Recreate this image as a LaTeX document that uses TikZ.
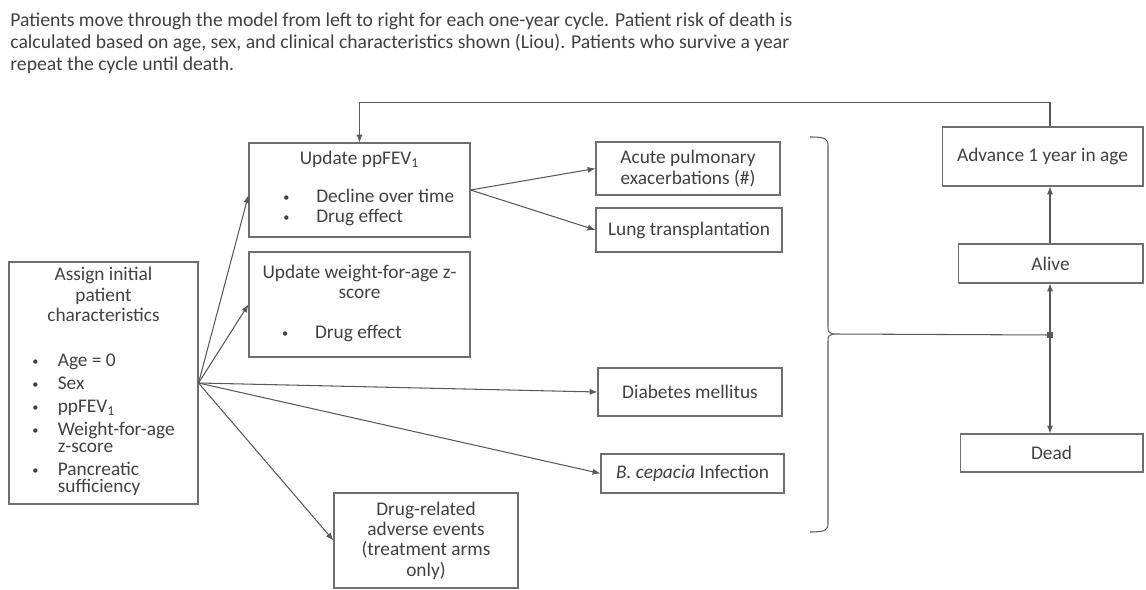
\documentclass[tikz,border=0pt]{standalone}
\usepackage{fontspec}
\setmainfont{Carlito}
\usetikzlibrary{arrows.meta, calc}
\definecolor{cfLine}{HTML}{595959}
\definecolor{cfText}{HTML}{404040}
\definecolor{cfBorder}{HTML}{6E6E6E}
\newcommand{\cfdot}{\raisebox{0.6pt}{\fontsize{7}{7}\selectfont\textbullet}}

\begin{document}
\begin{tikzpicture}[
  x=0.02cm, y=-0.02cm,
  >={Latex[length=4.5pt,width=3.5pt]},
  font=\fontsize{11}{11.6}\selectfont,
  flow/.style={->, draw=cfLine, line width=0.6pt},
  connector/.style={draw=cfLine, line width=0.6pt},
  box/.style={draw=cfBorder, line width=0.6pt, text=cfText, align=center, inner sep=0pt},
  junction/.style={fill=cfLine, minimum size=3pt, inner sep=0pt}
]
  \useasboundingbox (0,0) rectangle (1146,590);

  \node[anchor=north west, text=cfText, align=left, inner sep=0pt,
        font=\fontsize{11.2}{12.8}\selectfont] (caption) at (10,12)
    {Patients move through the model from left to right for each one-year cycle. Patient risk of death is\\
     calculated based on age, sex, and clinical characteristics shown (Liou). Patients who survive a year\\
     repeat the cycle until death.};

  % Starting state
  \node[box, minimum width=3.78cm, minimum height=4.84cm] (assign) at (103.5,383)
    {Assign initial\\patient\\characteristics\\[14pt]
     \begin{tabular}[t]{@{}l@{\hspace{11pt}}l@{}}
       \cfdot & Age = 0\\[1.5pt]
       \cfdot & Sex\\[1.5pt]
       \cfdot & ppFEV\textsubscript{1}\\[1.5pt]
       \cfdot & Weight-for-age\\[-2pt]
              & z-score\\[1.5pt]
       \cfdot & Pancreatic\\[-2pt]
              & sufficiency
     \end{tabular}};

  % Yearly updates
  \node[box, minimum width=4.42cm, minimum height=1.88cm] (fev) at (359.5,190)
    {Update ppFEV\textsubscript{1}\\[10pt]
     \hspace*{10.5pt}\begin{tabular}[t]{@{}l@{\hspace{15.3pt}}l@{}}
       \cfdot & Decline over time\\
       \cfdot & Drug effect
     \end{tabular}};
  \node[box, minimum width=4.42cm, minimum height=2.10cm] (wfa) at (359.5,304.5)
    {Update weight-for-age z-\\score\\[11pt]
     \hspace*{6pt}\begin{tabular}[t]{@{}l@{\hspace{15.3pt}}l@{}}
       \cfdot & Drug effect\hspace*{26pt}
     \end{tabular}};
  \node[box, minimum width=3.68cm, minimum height=1.90cm] (adverse) at (426,540.5)
    {Drug-related\\adverse events\\(treatment arms\\only)};

  % Clinical events
  \node[box, minimum width=3.68cm, minimum height=1.06cm] (acute) at (688,168.5)
    {Acute pulmonary\\exacerbations (\#)};
  \node[box, minimum width=3.72cm, minimum height=0.88cm] (lung) at (689,230)
    {Lung transplantation};
  \node[box, minimum width=3.68cm, minimum height=0.96cm] (diabetes) at (690,392)
    {Diabetes mellitus};
  \node[box, minimum width=3.66cm, minimum height=0.78cm] (cepacia) at (692.5,473.5)
    {\textit{B. cepacia} Infection};

  % Outcome states
  \node[box, minimum width=4.02cm, minimum height=1.18cm] (advance) at (1042.5,156.5)
    {Advance 1 year in age};
  \node[box, minimum width=3.70cm, minimum height=0.78cm] (alive) at (1050.5,263.5)
    {Alive};
  \node[box, minimum width=3.66cm, minimum height=0.76cm] (dead) at (1051.5,453)
    {Dead};

  % Bracket gathering all events
  \coordinate (braceTop) at (810,137);
  \coordinate (braceTip) at (833,334);
  \coordinate (braceBottom) at (810,532);
  \draw[connector] (braceTop) .. controls (826,137) and (828,139) .. (828,146)
    -- (828,326) .. controls (828,332) .. (braceTip)
    .. controls (828,336) .. (828,342)
    -- (828,523) .. controls (828,530) and (826,532) .. (braceBottom);
  \node[junction] (split) at (1050,335) {};

  \draw[flow] (assign.east) -- ($(fev.west)+(0,5)$);
  \draw[flow] (assign.east) -- (wfa.west);
  \draw[flow] (assign.east) -- (diabetes.west);
  \draw[flow] (assign.east) -- (cepacia.west);
  \draw[flow] (assign.east) -- (adverse.west);
  \draw[flow] (fev.east) -- (acute.west);
  \draw[flow] (fev.east) -- (lung.west);

  \draw[connector] (braceTip) -- (split);
  \draw[flow] (split) -- (split |- alive.south);
  \draw[flow] (split) -- (split |- dead.north);
  \draw[flow] (split |- alive.north) -- (split |- advance.south);
  \draw[flow] (split |- advance.north) -- ++(0,-24) -| (fev.north);
\end{tikzpicture}
\end{document}
